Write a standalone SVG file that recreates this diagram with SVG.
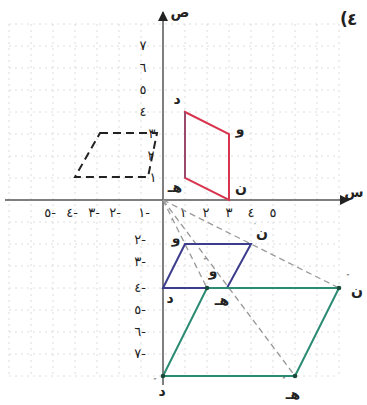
<svg xmlns="http://www.w3.org/2000/svg" width="367" height="405" viewBox="0 0 367 405">
<defs>
<style>
.grid line{stroke:#dcdcdc;stroke-width:1;stroke-dasharray:2 4}
.axis{stroke:#555;stroke-width:1.5;fill:none}
.num{font-family:"DejaVu Sans",sans-serif;font-size:13px;fill:#222;text-anchor:middle;direction:ltr;unicode-bidi:bidi-override}
.lbl{font-family:"DejaVu Sans",sans-serif;font-size:14px;font-weight:bold;fill:#222;text-anchor:middle}
.pr{font-family:"DejaVu Sans",sans-serif;font-size:8px;fill:#555;text-anchor:middle}
.big{font-family:"DejaVu Sans",sans-serif;font-size:17px;font-weight:bold;fill:#222}
.guide{stroke:#9a9a9a;stroke-width:1.3;stroke-dasharray:6 4;fill:none}
</style>
<marker id="ah" viewBox="0 0 10 10" refX="9" refY="5" markerWidth="7" markerHeight="7" orient="auto-start-reverse"><path d="M0,0 L10,5 L0,10 z" fill="#222"/></marker>
</defs>
<rect width="367" height="405" fill="#fff"/>
<g class="grid">
<line x1="9" y1="24" x2="9" y2="376"/><line x1="31" y1="24" x2="31" y2="376"/><line x1="53" y1="24" x2="53" y2="376"/><line x1="75" y1="24" x2="75" y2="376"/><line x1="97" y1="24" x2="97" y2="376"/><line x1="119" y1="24" x2="119" y2="376"/><line x1="141" y1="24" x2="141" y2="376"/><line x1="185" y1="24" x2="185" y2="376"/><line x1="207" y1="24" x2="207" y2="376"/><line x1="229" y1="24" x2="229" y2="376"/><line x1="251" y1="24" x2="251" y2="376"/><line x1="273" y1="24" x2="273" y2="376"/><line x1="295" y1="24" x2="295" y2="376"/><line x1="317" y1="24" x2="317" y2="376"/><line x1="339" y1="24" x2="339" y2="376"/>
<line x1="9" y1="24" x2="339" y2="24"/><line x1="9" y1="46" x2="339" y2="46"/><line x1="9" y1="68" x2="339" y2="68"/><line x1="9" y1="90" x2="339" y2="90"/><line x1="9" y1="112" x2="339" y2="112"/><line x1="9" y1="134" x2="339" y2="134"/><line x1="9" y1="156" x2="339" y2="156"/><line x1="9" y1="178" x2="339" y2="178"/><line x1="9" y1="222" x2="339" y2="222"/><line x1="9" y1="244" x2="339" y2="244"/><line x1="9" y1="266" x2="339" y2="266"/><line x1="9" y1="288" x2="339" y2="288"/><line x1="9" y1="310" x2="339" y2="310"/><line x1="9" y1="332" x2="339" y2="332"/><line x1="9" y1="354" x2="339" y2="354"/><line x1="9" y1="376" x2="339" y2="376"/>
</g>
<g id="axes">
<line class="axis" x1="163" y1="385" x2="163" y2="12" marker-end="url(#ah)"/>
<line class="axis" x1="5" y1="200" x2="349" y2="200" marker-end="url(#ah)"/>
<text class="lbl" x="180" y="17">ص</text>
<text class="lbl" x="354" y="197">س</text>
<text class="big" x="340" y="25">(</text><text class="big" x="347" y="25">٤</text>
</g>
<g id="ticks">
<text class="num" x="143" y="50">٧</text><text class="num" x="143" y="72">٦</text><text class="num" x="143" y="94">٥</text><text class="num" x="143" y="116">٤</text><text class="num" x="152" y="138">٣</text><text class="num" x="151" y="160">٢</text><text class="num" x="153" y="182">١</text>
<text class="num" x="144" y="217">١-</text><text class="num" x="140" y="244">٢-</text><text class="num" x="140" y="266">٣-</text><text class="num" x="140" y="292">٤-</text><text class="num" x="140" y="314">٥-</text><text class="num" x="140" y="336">٦-</text><text class="num" x="140" y="358">٧-</text>
<text class="num" x="50" y="217">٥-</text><text class="num" x="72" y="217">٤-</text><text class="num" x="94" y="217">٣-</text><text class="num" x="115" y="217">٢-</text>
<text class="num" x="183" y="217">١</text><text class="num" x="206" y="217">٢</text><text class="num" x="229" y="217">٣</text><text class="num" x="251" y="217">٤</text><text class="num" x="273" y="217">٥</text>
</g>
<g id="connectors">
<line class="guide" x1="163" y1="200" x2="339" y2="288"/>
<line class="guide" x1="163" y1="200" x2="295" y2="376"/>
<line class="guide" x1="163" y1="200" x2="207" y2="288"/>
</g>
<g id="red">
<polygon points="185,112 229,134 229,200 185,178" fill="none" stroke="#d8344e" stroke-width="2"/>
<line x1="185" y1="112" x2="185" y2="178" stroke="#9a4a6a" stroke-width="2"/>
<text class="lbl" x="177" y="104">د</text>
<text class="lbl" x="240" y="134">و</text>
<text class="lbl" x="241" y="193">ن</text>
<text class="lbl" x="175" y="192">هـ</text>
</g>
<g id="dashed">
<polygon points="100,133 157,133 148,177 75,177" fill="none" stroke="#222" stroke-width="2" stroke-dasharray="8 5"/>
</g>
<g id="blue">
<polygon points="185,244 251,244 227,288 163,288" fill="none" stroke="#3c3c8c" stroke-width="2"/>
<text class="lbl" x="176" y="243">و</text><text class="pr" x="172" y="226">′</text>
<text class="lbl" x="262" y="238">ن</text><text class="pr" x="255" y="230">′</text>
<text class="lbl" x="170" y="303">د</text>
<text class="lbl" x="222" y="305">هـ</text>
</g>
<g id="green">
<polygon points="207,288 339,288 295,376 163,376" fill="none" stroke="#2a8a72" stroke-width="2"/>
<circle cx="207" cy="288" r="2.3" fill="#1a4a3a"/><circle cx="339" cy="288" r="2.3" fill="#1a4a3a"/><circle cx="295" cy="376" r="2.3" fill="#1a4a3a"/><circle cx="163" cy="376" r="2.3" fill="#1a4a3a"/>
<text class="lbl" x="213" y="276">و</text><text class="pr" x="205" y="265">″</text>
<text class="lbl" x="357" y="296">ن</text><text class="pr" x="348" y="281">″</text>
<text class="lbl" x="162" y="396">د</text><text class="pr" x="155" y="385">″</text>
<text class="lbl" x="293" y="399">هـ</text><text class="pr" x="284" y="384">″</text>
</g>
</svg>
